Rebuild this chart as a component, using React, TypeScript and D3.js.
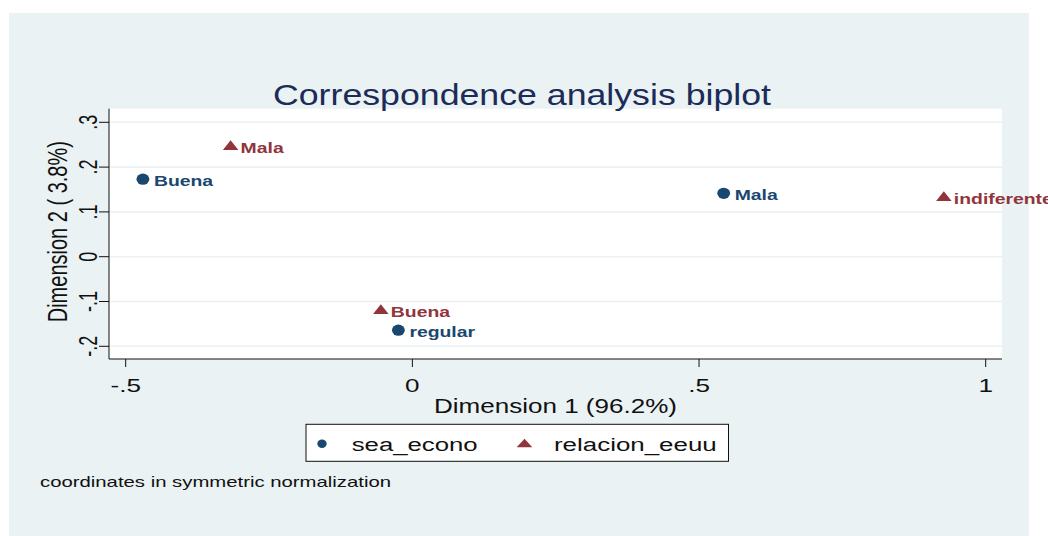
import React from "react";
import * as d3 from "d3";

// ---- data ----
const seaLabels = ["Buena", "Mala", "regular"];
const seaDim1 = [-0.47, 0.543, -0.0244];
const seaDim2 = [0.173, 0.1415, -0.164];

const relLabels = ["Mala", "Buena", "indiferente"];
const relDim1 = [-0.317, -0.055, 0.927];
const relDim2 = [0.249, -0.117, 0.135];

const xTicks = [-0.5, 0, 0.5, 1];
const yTicks = [-0.2, -0.1, 0, 0.1, 0.2, 0.3];

const seriesNames = ["sea_econo", "relacion_eeuu"];
const titleText = "Correspondence analysis biplot";
const xTitle = "Dimension 1 (96.2%)";
const yTitle = "Dimension 2 ( 3.8%)";
const note = "coordinates in symmetric normalization";

const NAVY = "#1a476f";
const MAROON = "#90353b";
const BG = "#eaf2f3";
const FONT = "'Liberation Sans', Arial, Helvetica, sans-serif";

const fmt = (t: number) => (t === 0 ? "0" : String(t).replace("0.", "."));

function tri(cx: number, cy: number, w: number, h: number) {
  return `M${cx - w / 2},${cy + h / 2}L${cx + w / 2},${cy + h / 2}L${cx},${cy - h / 2}Z`;
}

export default function App() {
  const W = 1048;
  const H = 536;
  const plot = { left: 109, right: 1002, top: 108.7, bottom: 359 };
  const x = d3.scaleLinear().domain([-0.5, 1]).range([125.7, 985.7]);
  const y = d3.scaleLinear().domain([-0.2, 0.3]).range([346.3, 122.3]);

  const sea = seaLabels.map((l, i) => ({ l, cx: x(seaDim1[i]), cy: y(seaDim2[i]) }));
  const rel = relLabels.map((l, i) => ({ l, cx: x(relDim1[i]), cy: y(relDim2[i]) }));

  return (
    <svg
      width={W}
      height={H}
      style={{ position: "absolute", left: 0, top: 0, background: "#fff" }}
      fontFamily={FONT}
    >
      <rect x={0} y={0} width={W} height={H} fill="#fff" />
      <rect x={9} y={13} width={1020} height={H - 13} fill={BG} />
      <rect
        x={plot.left}
        y={plot.top}
        width={plot.right - plot.left}
        height={plot.bottom - plot.top}
        fill="#fff"
      />
      {/* gridlines */}
      {yTicks.map((t) => (
        <line
          key={"g" + t}
          x1={plot.left}
          x2={plot.right}
          y1={y(t)}
          y2={y(t)}
          stroke={BG}
          strokeWidth={1.6}
        />
      ))}
      {/* axes */}
      <line x1={plot.left} x2={plot.left} y1={plot.top} y2={plot.bottom} stroke="#111" strokeWidth={1} />
      <line x1={plot.left} x2={plot.right} y1={plot.bottom} y2={plot.bottom} stroke="#111" strokeWidth={1} />
      {yTicks.map((t) => (
        <g key={"yt" + t}>
          <line x1={99} x2={plot.left} y1={y(t)} y2={y(t)} stroke="#111" strokeWidth={1} />
          <text
            transform={`translate(96.5,${y(t)}) scale(1.45,1) rotate(-90)`}
            textAnchor="middle"
            fontSize={18}
            fill="#111"
          >
            {fmt(t)}
          </text>
        </g>
      ))}
      {xTicks.map((t) => (
        <g key={"xt" + t}>
          <line x1={x(t)} x2={x(t)} y1={plot.bottom} y2={367} stroke="#111" strokeWidth={1} />
          <text
            transform={`translate(${x(t)},391.7) scale(1.45,1)`}
            textAnchor="middle"
            fontSize={18}
            fill="#111"
          >
            {fmt(t)}
          </text>
        </g>
      ))}
      <text
        x={(plot.left + plot.right) / 2 - 121.5}
        y={413}
        fontSize={19.5}
        fill="#111"
        textLength={243}
        lengthAdjust="spacingAndGlyphs"
      >
        {xTitle}
      </text>
      <text
        transform={`translate(66.7,231.7) scale(1.4,1) rotate(-90)`}
        textAnchor="middle"
        fontSize={20}
        fill="#111"
      >
        {yTitle}
      </text>

      {/* points */}
      {sea.map((p) => (
        <g key={"s" + p.l}>
          <ellipse cx={p.cx} cy={p.cy} rx={6.4} ry={5.6} fill={NAVY} />
          <text
            transform={`translate(${p.cx + 11},${p.cy + 7}) scale(1.25,1)`}
            fontSize={15.5}
            fontWeight="bold"
            fill={NAVY}
          >
            {p.l}
          </text>
        </g>
      ))}
      {rel.map((p) => (
        <g key={"r" + p.l}>
          <path d={tri(p.cx, p.cy, 15.5, 9.8)} fill={MAROON} />
          <text
            transform={`translate(${p.cx + 10},${p.cy + 7.6}) scale(1.25,1)`}
            fontSize={15.5}
            fontWeight="bold"
            fill={MAROON}
          >
            {p.l}
          </text>
        </g>
      ))}

      {/* title */}
      <text
        x={273}
        y={104.5}
        fontSize={29}
        fill="#1c2b57"
        textLength={498}
        lengthAdjust="spacingAndGlyphs"
      >
        {titleText}
      </text>

      {/* legend */}
      <rect x={306} y={424.3} width={422.5} height={37} fill="#fff" stroke="#111" strokeWidth={1} />
      <ellipse cx={322} cy={443.8} rx={4.7} ry={4.2} fill={NAVY} />
      <text x={351.7} y={451.3} fontSize={18} fill="#111" textLength={126} lengthAdjust="spacingAndGlyphs">
        {seriesNames[0]}
      </text>
      <path d={tri(524.5, 443, 15.6, 8.6)} fill={MAROON} />
      <text x={554} y={451.3} fontSize={18} fill="#111" textLength={162.7} lengthAdjust="spacingAndGlyphs">
        {seriesNames[1]}
      </text>

      <text x={40} y={486.7} fontSize={14.5} fill="#111" textLength={351} lengthAdjust="spacingAndGlyphs">
        {note}
      </text>
    </svg>
  );
}
